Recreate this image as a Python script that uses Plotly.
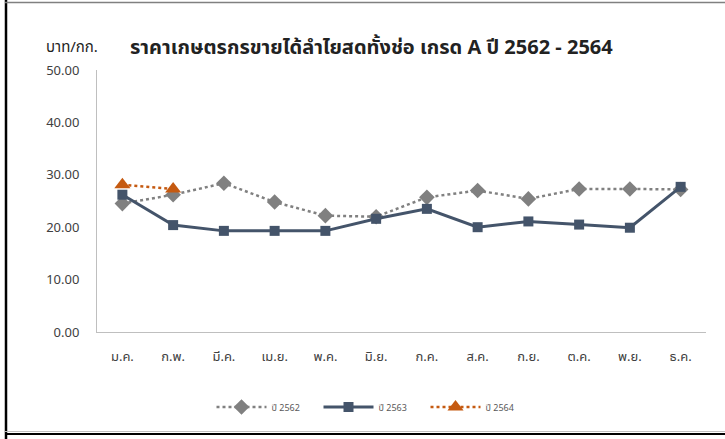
import plotly.graph_objects as go

months = ["ม.ค.", "ก.พ.", "มี.ค.", "เม.ย.", "พ.ค.", "มิ.ย.", "ก.ค.", "ส.ค.", "ก.ย.", "ต.ค.", "พ.ย.", "ธ.ค."]
y2562 = [24.5, 26.2, 28.4, 24.8, 22.2, 22.0, 25.7, 27.0, 25.4, 27.3, 27.3, 27.2]
y2563 = [26.2, 20.4, 19.3, 19.3, 19.3, 21.6, 23.5, 20.0, 21.1, 20.5, 19.9, 27.7]
y2564 = [28.1, 27.3]
yticks = [0, 10, 20, 30, 40, 50]

font = "Tahoma, 'Noto Sans Thai', 'Noto Sans', sans-serif"

fig = go.Figure()
fig.add_trace(go.Scatter(x=months, y=y2562, name="ปี 2562", mode="lines+markers",
                         line=dict(color="#808080", width=2.5, dash="dot"),
                         marker=dict(symbol="diamond", size=12, color="#808080")))
fig.add_trace(go.Scatter(x=months, y=y2563, name="ปี 2563", mode="lines+markers",
                         line=dict(color="#44546A", width=3),
                         marker=dict(symbol="square", size=10, color="#44546A")))
fig.add_trace(go.Scatter(x=months[:len(y2564)], y=y2564, name="ปี 2564", mode="lines+markers",
                         line=dict(color="#C55A11", width=2.5, dash="dot"),
                         marker=dict(symbol="triangle-up", size=14, color="#C55A11")))

# plot area: x 97..706, y 70..332 px
L, R, T, B = 97, 706, 70, 332
W, H = R - L, B - T
def px(x):
    return (x - L) / W
def py(y):
    return (B - y) / H

shapes = [
    dict(type="line", xref="paper", yref="paper", x0=px(6), x1=px(6), y0=py(0), y1=py(439),
         line=dict(color="black", width=2.5)),
    dict(type="line", xref="paper", yref="paper", x0=px(5), x1=px(725), y0=py(2.5), y1=py(2.5),
         line=dict(color="#808080", width=1.5)),
    dict(type="line", xref="paper", yref="paper", x0=px(5), x1=px(725), y0=py(431.5), y1=py(431.5),
         line=dict(color="#BFBFBF", width=1)),
    dict(type="line", xref="paper", yref="paper", x0=px(5), x1=px(725), y0=py(434), y1=py(434),
         line=dict(color="black", width=2)),
]

fig.update_layout(
    width=725, height=439,
    margin=dict(l=L, r=725 - R, t=T, b=439 - B),
    paper_bgcolor="white", plot_bgcolor="white",
    font=dict(family=font, color="#404040", size=13),
    showlegend=True,
    legend=dict(orientation="h", x=px(372), xanchor="center", y=py(407), yanchor="middle",
                font=dict(size=9, color="#595959"), itemwidth=50, entrywidth=42),
    shapes=shapes,
    annotations=[
        dict(text="ราคาเกษตรกรขายได้ลำไยสดทั้งช่อ เกรด A ปี 2562 - 2564", xref="paper", yref="paper",
             x=px(128), y=py(48), xanchor="left", yanchor="middle", showarrow=False,
             font=dict(size=20, color="#222222", family=font, weight="bold")),
        dict(text="บาท/กก.", xref="paper", yref="paper",
             x=px(44), y=py(48), xanchor="left", yanchor="middle", showarrow=False,
             font=dict(size=15, color="#222222", family=font)),
    ],
)
fig.update_xaxes(range=[-0.5, 11.5], showgrid=False, showline=True, linecolor="#BFBFBF", linewidth=1,
                 ticks="", ticklabelstandoff=12, zeroline=False)
fig.update_yaxes(range=[0, 50], tickvals=yticks, tickformat=".2f", showgrid=False,
                 showline=True, linecolor="#BFBFBF", linewidth=1, ticks="",
                 ticklabelstandoff=14, zeroline=False)

fig.write_html("out.html", config={"displayModeBar": False},
               post_script="document.body.style.margin='0';")
